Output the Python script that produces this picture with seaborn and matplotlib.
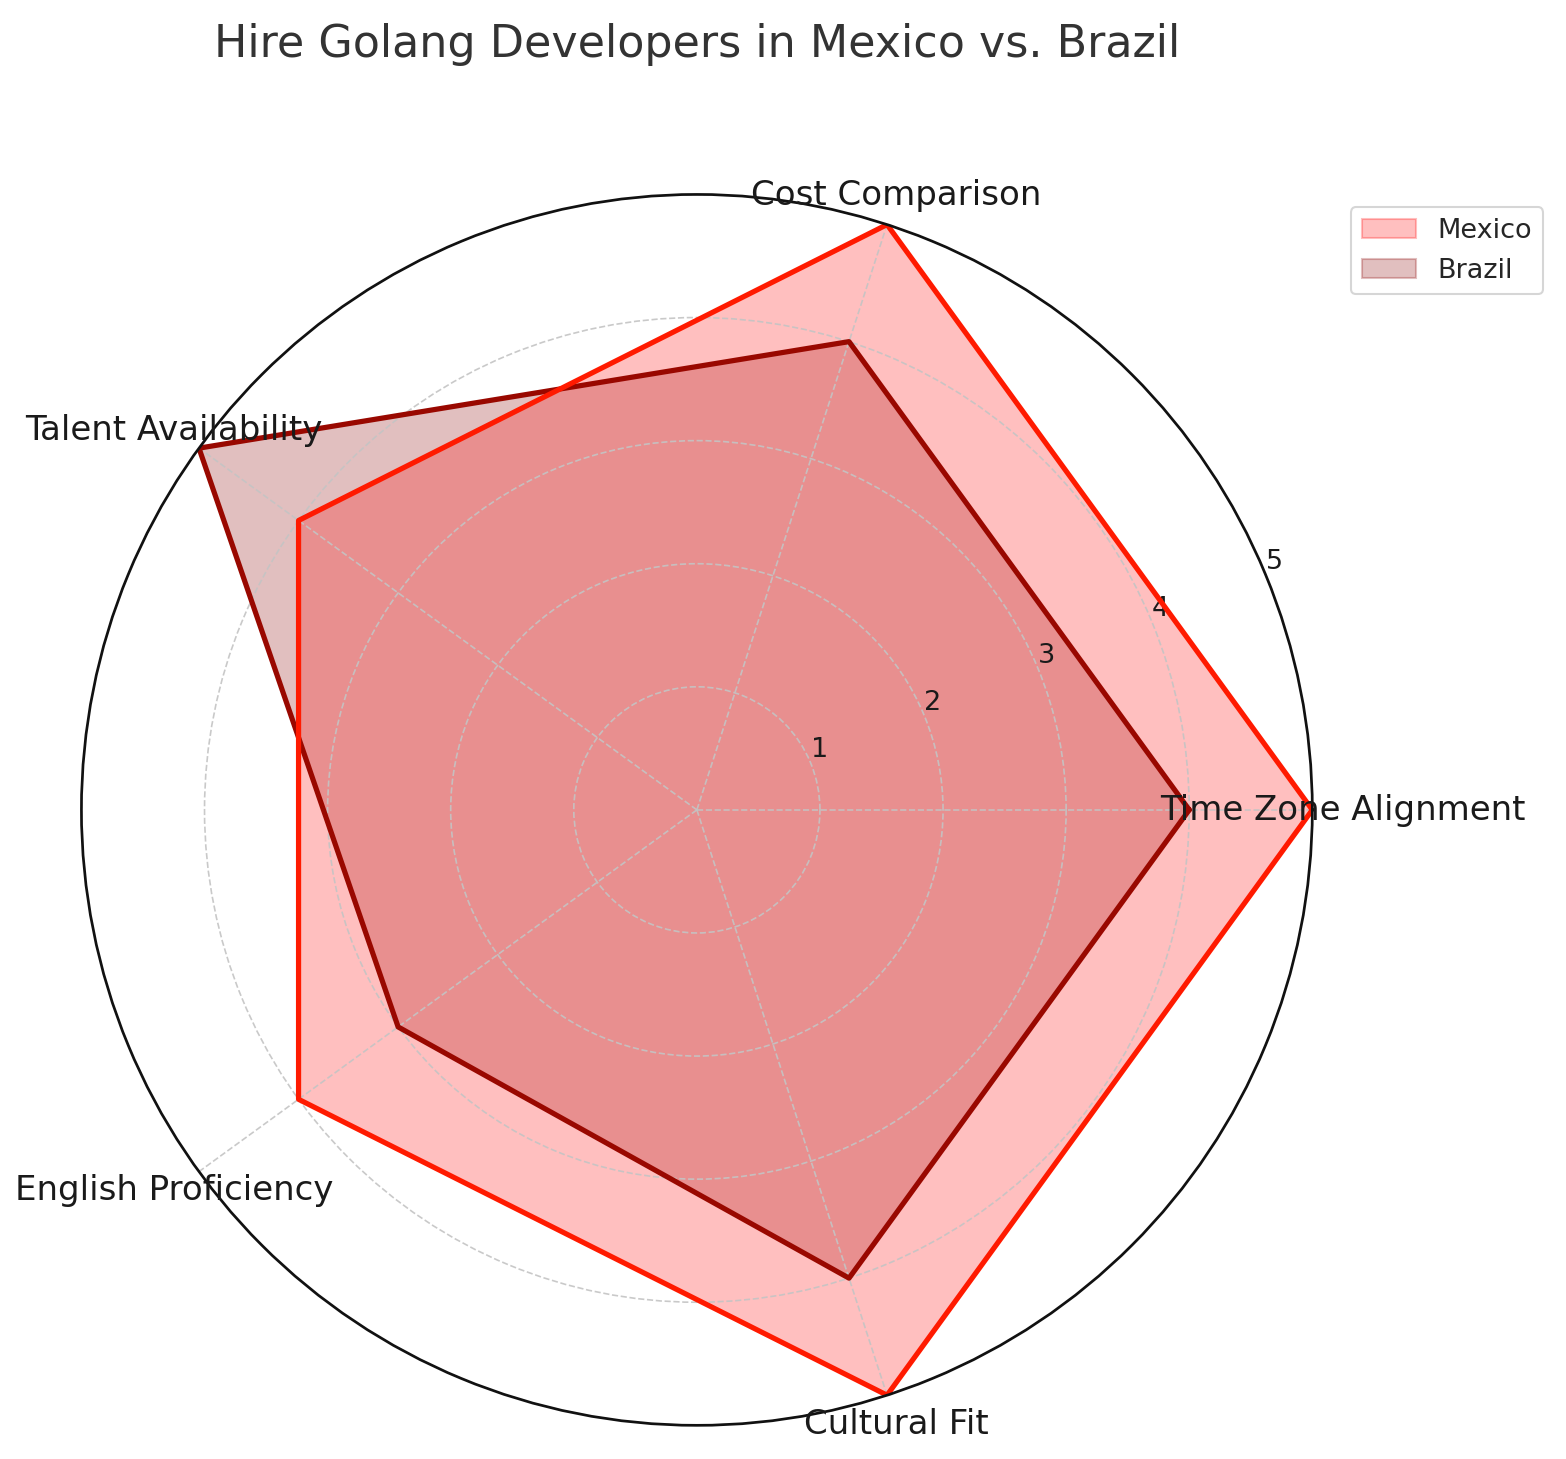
import numpy as np
import matplotlib
matplotlib.use("Agg")
import matplotlib.pyplot as plt
import seaborn as sns

# data
categories = ["Time Zone Alignment", "Cost Comparison", "Talent Availability",
              "English Proficiency", "Cultural Fit"]
mexico = [5, 5, 4, 4, 5]
brazil = [4, 4, 5, 3, 4]

sns.set_theme(style="whitegrid")
plt.rcParams['font.family'] = ['DejaVu Sans']

angles = np.linspace(0, 2 * np.pi, len(categories), endpoint=False).tolist()
angles += angles[:1]
mex = mexico + mexico[:1]
bra = brazil + brazil[:1]

fig, ax = plt.subplots(figsize=(10.44, 9.73), dpi=150, subplot_kw=dict(polar=True))
fig.subplots_adjust(left=0.052, right=0.838, top=0.868, bottom=0.0215)
ax.set_axisbelow(False)

ax.fill(angles, mex, color="red", alpha=0.25, label="Mexico", zorder=1)
ax.plot(angles, mex, color="#FF1A00", linewidth=2.5, zorder=4)
ax.fill(angles, bra, color="#8B0000", alpha=0.25, label="Brazil", zorder=0.9)
ax.plot(angles, bra, color="#990800", linewidth=2.5, zorder=3.5)

ax.set_ylim(0, 5)
ax.set_xticks(angles[:-1])
ax.set_xticklabels([])
# category labels centred just outside the rim
for ang, cat in zip(angles[:-1], categories):
    ax.text(ang, 5.25, cat, ha="center", va="center", fontsize=16.3,
            color="#1a1a1a", zorder=6)

ax.set_yticks([1, 2, 3, 4, 5])
ax.set_yticklabels(["1", "2", "3", "4", "5"], fontsize=13, color="#1a1a1a")
ax.set_rlabel_position(22.5)
ax.grid(color="#c4c4c4", linestyle="--", linewidth=0.8, alpha=0.9)
ax.spines['polar'].set_color("#111111")
ax.spines['polar'].set_linewidth(1.3)
ax.spines['polar'].set_zorder(5)
ax.set_facecolor("white")

ax.set_title("Hire Golang Developers in Mexico vs. Brazil", fontsize=21.3,
             color="#333333", pad=66)
ax.legend(loc="upper left", bbox_to_anchor=(0.854, 0.867),
          bbox_transform=fig.transFigure, fontsize=13)

plt.savefig("out.png", dpi=150)
